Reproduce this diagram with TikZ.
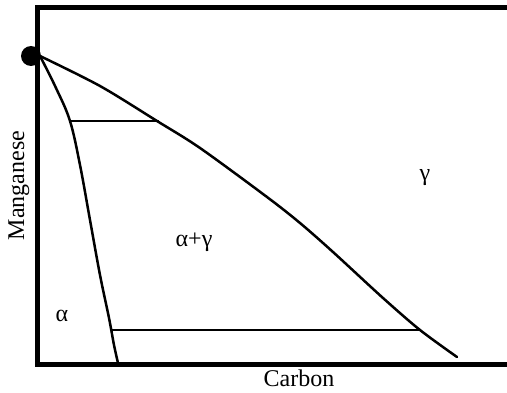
\documentclass[tikz,border=0pt]{standalone}
\usepackage{fontspec}
\setmainfont{Liberation Serif}
\begin{document}
\begin{tikzpicture}[x=1pt,y=-1pt,
  frame/.style={line width=5pt},
  boundary/.style={line width=2.5pt,line join=round,line cap=round},
  tie/.style={line width=2.2pt},
  lbl/.style={font=\fontsize{24}{28}\selectfont,inner sep=0pt}]
\useasboundingbox (0,0) rectangle (507,393);
\draw[frame] (507,8) -- (37.5,8) -- (37.5,365) -- (507,365);
\coordinate (top) at (40,56);
\fill (31,56) circle (10);
\draw[boundary] plot[smooth,tension=0.5] coordinates {(40,56) (100,86) (157,121) (200,148) (267,197) (300,223) (333,252) (383,298) (420,330) (457,357)};
\draw[boundary] plot[smooth,tension=0.6] coordinates {(40,56) (56,88) (70,121) (80,165) (90,220) (100,275) (109,318) (114,345) (118,363)};
\coordinate (t1a) at (70,121);
\coordinate (t1b) at (159,121);
\coordinate (t2a) at (112,330);
\coordinate (t2b) at (420,330);
\draw[tie] (t1a) -- (t1b);
\draw[tie] (t2a) -- (t2b);
\node[lbl] (gam) at (425,178) {γ};
\node[lbl] (ag) at (194,242) {α+γ};
\node[lbl] (al) at (62,316) {α};
\node[lbl,anchor=base] (carb) at (299,387) {Carbon};
\node[lbl,rotate=90,anchor=base] (mn) at (24,185.5) {Manganese};
\end{tikzpicture}
\end{document}
